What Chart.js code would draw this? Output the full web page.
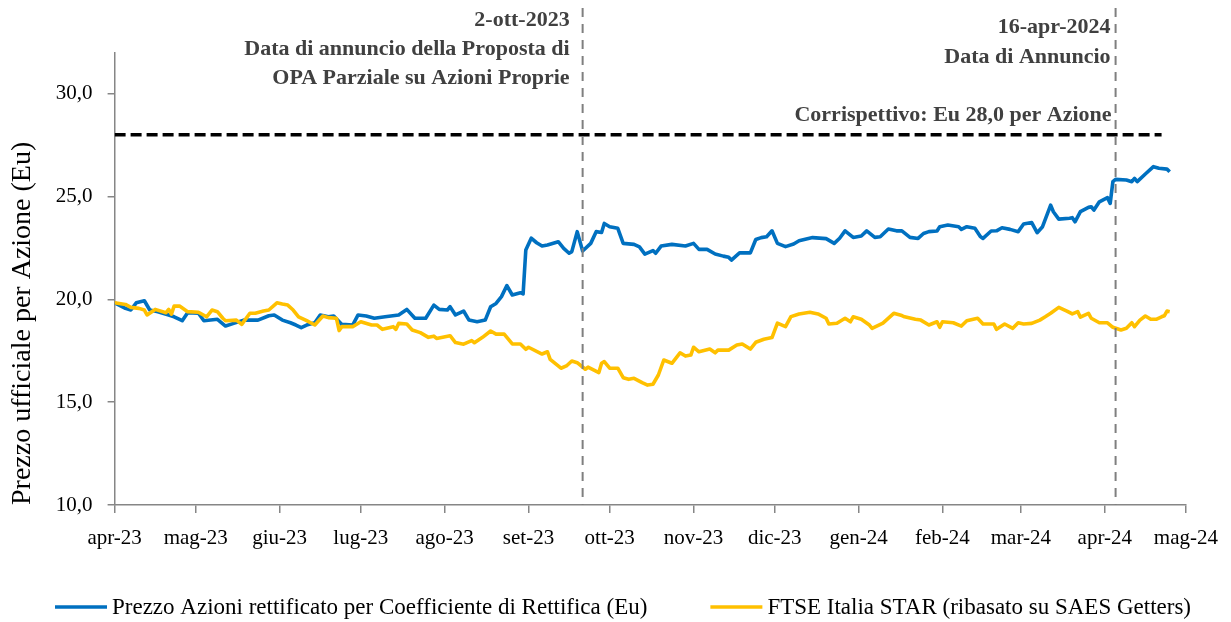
<!DOCTYPE html>
<html><head><meta charset="utf-8">
<script src="https://cdn.jsdelivr.net/npm/chart.js@4.4.1/dist/chart.umd.min.js"></script>
<style>html,body{margin:0;padding:0;background:#fff;}#wrap{width:1231px;height:622px;}</style>
</head><body><div id="wrap"><canvas id="c" width="1231" height="622"></canvas></div>
<script>
const FONT = '"Liberation Serif", "Times New Roman", serif';

// ---- data ----
const blueDates = [
 "2023-04-12","2023-04-16","2023-04-18","2023-04-20","2023-04-23","2023-04-25","2023-04-28",
 "2023-05-02","2023-05-04","2023-05-07","2023-05-09","2023-05-13","2023-05-15","2023-05-20","2023-05-23","2023-05-26","2023-05-30",
 "2023-06-04","2023-06-08","2023-06-10","2023-06-13","2023-06-16","2023-06-18","2023-06-20","2023-06-22","2023-06-25","2023-06-27","2023-06-30",
 "2023-07-02","2023-07-05","2023-07-09","2023-07-11","2023-07-14","2023-07-17","2023-07-21","2023-07-26","2023-07-29",
 "2023-08-01","2023-08-05","2023-08-08","2023-08-10","2023-08-13","2023-08-14","2023-08-16","2023-08-19","2023-08-21","2023-08-24","2023-08-27","2023-08-29","2023-08-31",
 "2023-09-02","2023-09-04","2023-09-06","2023-09-09","2023-09-10","2023-09-11","2023-09-13","2023-09-15","2023-09-17","2023-09-19","2023-09-23","2023-09-25","2023-09-27","2023-09-28","2023-09-30",
 "2023-10-02","2023-10-05","2023-10-07","2023-10-09","2023-10-10","2023-10-12","2023-10-15","2023-10-17","2023-10-21","2023-10-23","2023-10-25","2023-10-28","2023-10-29","2023-10-31",
 "2023-11-04","2023-11-09","2023-11-12","2023-11-14","2023-11-17","2023-11-20","2023-11-23","2023-11-25","2023-11-26","2023-11-29",
 "2023-12-03","2023-12-05","2023-12-07","2023-12-09","2023-12-11","2023-12-13","2023-12-16","2023-12-19","2023-12-21","2023-12-26","2023-12-31",
 "2024-01-03","2024-01-05","2024-01-07","2024-01-10","2024-01-13","2024-01-15","2024-01-18","2024-01-20","2024-01-23","2024-01-26","2024-01-28","2024-01-31",
 "2024-02-03","2024-02-05","2024-02-07","2024-02-10","2024-02-11","2024-02-14","2024-02-18","2024-02-19","2024-02-21","2024-02-24","2024-02-26","2024-02-27",
 "2024-03-01","2024-03-03","2024-03-05","2024-03-08","2024-03-11","2024-03-13","2024-03-16","2024-03-18","2024-03-20","2024-03-23","2024-03-24","2024-03-26","2024-03-30","2024-03-31",
 "2024-04-01","2024-04-03","2024-04-06","2024-04-07","2024-04-08","2024-04-10","2024-04-13","2024-04-14","2024-04-15","2024-04-16","2024-04-20","2024-04-22","2024-04-23","2024-04-24","2024-04-27","2024-04-30",
 "2024-05-02","2024-05-05","2024-05-06"];
const blueValues = [
 19.83,19.56,19.48,19.83,19.93,19.48,19.40,
 19.24,19.15,18.96,19.35,19.32,18.96,19.03,18.70,18.83,18.99,
 18.99,19.20,19.24,18.99,18.86,18.75,18.62,18.75,18.86,19.24,19.15,
 19.19,18.78,18.75,19.24,19.19,19.08,19.15,19.24,19.51,
 19.08,19.08,19.72,19.51,19.48,19.64,19.24,19.43,18.99,18.91,18.99,19.64,19.80,
 20.13,20.67,20.21,20.32,20.26,22.40,22.97,22.75,22.59,22.64,22.80,22.48,22.24,22.32,23.29,
 22.35,22.72,23.29,23.25,23.69,23.53,23.45,22.72,22.67,22.55,22.20,22.37,22.24,22.59,
 22.67,22.59,22.72,22.43,22.43,22.20,22.10,22.04,21.91,22.26,
 22.26,22.91,23.00,23.04,23.33,22.72,22.56,22.69,22.85,23.00,22.95,
 22.72,22.97,23.33,23.01,23.08,23.33,23.01,23.04,23.42,23.33,23.33,23.01,
 22.96,23.20,23.29,23.32,23.53,23.61,23.53,23.40,23.53,23.45,23.05,22.96,
 23.32,23.33,23.48,23.40,23.29,23.66,23.73,23.24,23.53,24.58,24.26,23.90,23.94,23.97,
 23.77,24.26,24.47,24.50,24.34,24.74,24.94,24.66,25.72,25.83,25.80,25.72,25.88,25.72,26.09,26.45,
 26.37,26.33,26.20];

const yellowDates = [
 "2023-04-12","2023-04-16","2023-04-18","2023-04-21","2023-04-23","2023-04-24","2023-04-27",
 "2023-05-01","2023-05-02","2023-05-03","2023-05-04","2023-05-06","2023-05-09","2023-05-13","2023-05-16","2023-05-18","2023-05-20","2023-05-22","2023-05-23","2023-05-27","2023-05-29",
 "2023-06-01","2023-06-03","2023-06-06","2023-06-08","2023-06-11","2023-06-13","2023-06-15","2023-06-17","2023-06-19","2023-06-22","2023-06-25","2023-06-28","2023-06-30",
 "2023-07-03","2023-07-04","2023-07-05","2023-07-09","2023-07-12","2023-07-16","2023-07-18","2023-07-20","2023-07-24","2023-07-25","2023-07-26","2023-07-29","2023-07-31",
 "2023-08-03","2023-08-06","2023-08-08","2023-08-09","2023-08-14","2023-08-16","2023-08-19","2023-08-22","2023-08-23","2023-08-26","2023-08-29","2023-08-31",
 "2023-09-03","2023-09-06","2023-09-09","2023-09-11","2023-09-12","2023-09-17","2023-09-19","2023-09-20","2023-09-24","2023-09-26","2023-09-28","2023-09-30",
 "2023-10-03","2023-10-04","2023-10-08","2023-10-09","2023-10-10","2023-10-12","2023-10-15","2023-10-17","2023-10-19","2023-10-21","2023-10-24","2023-10-26","2023-10-28","2023-10-30",
 "2023-11-01","2023-11-04","2023-11-07","2023-11-09","2023-11-11","2023-11-12","2023-11-14","2023-11-18","2023-11-20","2023-11-21","2023-11-25","2023-11-28","2023-11-30",
 "2023-12-03","2023-12-05","2023-12-08","2023-12-11","2023-12-13","2023-12-16","2023-12-18","2023-12-21","2023-12-25","2023-12-28","2023-12-31",
 "2024-01-01","2024-01-04","2024-01-07","2024-01-09","2024-01-10","2024-01-13","2024-01-16","2024-01-17","2024-01-21","2024-01-25","2024-01-28","2024-01-29",
 "2024-02-02","2024-02-04","2024-02-07","2024-02-10","2024-02-11","2024-02-12","2024-02-16","2024-02-19","2024-02-21","2024-02-25","2024-02-27",
 "2024-03-02","2024-03-03","2024-03-06","2024-03-09","2024-03-11","2024-03-13","2024-03-16","2024-03-19","2024-03-21","2024-03-23","2024-03-26","2024-03-29","2024-03-31",
 "2024-04-02","2024-04-03","2024-04-06","2024-04-07","2024-04-10","2024-04-13","2024-04-15","2024-04-18","2024-04-20","2024-04-22","2024-04-23","2024-04-25","2024-04-27","2024-04-29",
 "2024-05-01","2024-05-03","2024-05-04","2024-05-05","2024-05-06"];
const yellowValues = [
 19.83,19.75,19.61,19.56,19.48,19.24,19.51,
 19.35,19.51,19.28,19.67,19.67,19.40,19.37,19.15,19.48,19.40,19.08,18.96,18.99,18.78,
 19.32,19.32,19.43,19.48,19.83,19.77,19.72,19.48,19.15,18.96,18.75,19.19,19.11,
 19.08,18.48,18.67,18.67,18.91,18.75,18.75,18.54,18.67,18.54,18.83,18.80,18.51,
 18.38,18.15,18.21,18.10,18.23,17.90,17.82,17.99,17.89,18.15,18.46,18.31,
 18.31,17.83,17.83,17.57,17.67,17.34,17.45,17.08,16.65,16.76,17.00,16.92,
 16.60,16.70,16.44,16.89,16.97,16.65,16.65,16.19,16.11,16.16,15.95,15.83,15.87,16.32,
 17.05,16.89,17.40,17.24,17.29,17.67,17.45,17.58,17.40,17.53,17.53,17.78,17.83,
 17.58,17.91,18.06,18.14,18.84,18.67,19.16,19.29,19.37,19.29,19.08,
 18.80,18.84,19.08,18.91,19.15,19.03,18.75,18.59,18.84,19.32,19.21,19.15,
 19.03,18.99,18.75,18.91,18.64,18.91,18.86,18.70,18.96,19.08,18.80,
 18.80,18.54,18.80,18.59,18.86,18.80,18.83,18.99,19.15,19.32,19.61,19.43,19.29,
 19.40,19.13,19.32,19.08,18.86,18.86,18.64,18.51,18.59,18.86,18.67,18.99,19.19,19.03,
 19.03,19.15,19.20,19.43,19.40];

const offerDates = ["2023-04-12","2024-05-03"];
const offerValues = [28, 28];

const tickDates = ["2023-04-12","2023-05-12","2023-06-12","2023-07-12","2023-08-12","2023-09-12","2023-10-12","2023-11-12","2023-12-12","2024-01-12","2024-02-12","2024-03-12","2024-04-12","2024-05-12"];
const tickLabels = ["apr-23","mag-23","giu-23","lug-23","ago-23","set-23","ott-23","nov-23","dic-23","gen-24","feb-24","mar-24","apr-24","mag-24"];
const yTicks = [10, 15, 20, 25, 30];

const seriesNames = ["Prezzo Azioni rettificato per Coefficiente di Rettifica (Eu)", "FTSE Italia STAR (ribasato su SAES Getters)"];
const yTitle = "Prezzo ufficiale per Azione (Eu)";
const markerDates = ["2023-10-02", "2024-04-16"];
const markerTexts = [["2-ott-2023", "Data di annuncio della Proposta di", "OPA Parziale su Azioni Proprie"], ["16-apr-2024", "Data di Annuncio"]];
const offerText = "Corrispettivo: Eu 28,0 per Azione";

// ---- helpers ----
const ORIGIN = Date.UTC(2023, 3, 12);
function dayNum(s) { const [y, m, d] = s.split('-').map(Number); return (Date.UTC(y, m - 1, d) - ORIGIN) / 864e5; }
function pts(dates, vals) { return dates.map((d, i) => ({ x: dayNum(d), y: vals[i] })); }

const BLUE = '#0070C0', YELLOW = '#FFC000', AXIS = '#868686';

const annotations = {
  id: 'annotations',
  afterDatasetsDraw(chart) {
    const { ctx, chartArea, scales: { x, y } } = chart;
    ctx.save();
    ctx.strokeStyle = '#7F7F7F'; ctx.lineWidth = 2; ctx.setLineDash([9, 7]);
    const mx = markerDates.map(d => x.getPixelForValue(dayNum(d)));
    mx.forEach(px => { ctx.beginPath(); ctx.moveTo(px, 8); ctx.lineTo(px, chartArea.bottom); ctx.stroke(); });
    ctx.setLineDash([]);
    ctx.fillStyle = '#404040'; ctx.textAlign = 'right'; ctx.textBaseline = 'middle';
    ctx.font = 'bold 22px ' + FONT;
    const ys = [[20, 49, 78], [27, 57]];
    const offs = [13, 5];
    markerTexts.forEach((lines, k) => lines.forEach((t, j) => ctx.fillText(t, mx[k] - offs[k], ys[k][j])));
    ctx.fillText(offerText, mx[1] - 4, y.getPixelForValue(28) - 19);
    ctx.restore();
  }
};

const legendPlugin = {
  id: 'customLegend',
  afterDraw(chart) {
    const { ctx } = chart;
    const items = chart.data.datasets.filter(d => d.label);
    ctx.save();
    ctx.font = '23px ' + FONT; ctx.textBaseline = 'middle'; ctx.textAlign = 'left';
    const lineLen = 52, gap = 5, itemGap = 63;
    const widths = items.map(d => lineLen + gap + ctx.measureText(d.label).width);
    const total = widths.reduce((a, b) => a + b, 0) + itemGap * (items.length - 1);
    let cx = 623 - total / 2;
    const cy = 607;
    items.forEach((d, i) => {
      ctx.strokeStyle = d.borderColor; ctx.lineWidth = 3.5;
      ctx.beginPath(); ctx.moveTo(cx, cy); ctx.lineTo(cx + lineLen, cy); ctx.stroke();
      ctx.fillStyle = '#000'; ctx.fillText(d.label, cx + lineLen + gap, cy + 1);
      cx += widths[i] + itemGap;
    });
    ctx.restore();
  }
};

new Chart(document.getElementById('c'), {
  type: 'line',
  data: {
    datasets: [
      { label: seriesNames[0], data: pts(blueDates, blueValues), borderColor: BLUE, borderWidth: 3.6, pointRadius: 0, tension: 0, borderJoinStyle: 'round', order: 2 },
      { label: seriesNames[1], data: pts(yellowDates, yellowValues), borderColor: YELLOW, borderWidth: 3.6, pointRadius: 0, tension: 0, borderJoinStyle: 'round', order: 1 },
      { data: pts(offerDates, offerValues), borderColor: '#000', borderWidth: 3.5, borderDash: [11, 5], pointRadius: 0, order: 0 }
    ]
  },
  options: {
    responsive: false, animation: false, devicePixelRatio: 1,
    layout: { padding: { left: 0, right: 44, top: 52.5, bottom: 0 } },
    plugins: { legend: { display: false }, tooltip: { enabled: false } },
    scales: {
      x: {
        type: 'linear', min: 0, max: dayNum(tickDates[tickDates.length - 1]),
        afterBuildTicks: s => { s.ticks = tickDates.map(d => ({ value: dayNum(d) })); },
        afterFit: s => { s.height = 117; },
        ticks: { autoSkip: false, maxRotation: 0, padding: 13, color: '#000', font: { family: FONT, size: 21 }, callback: (v, i) => tickLabels[i] },
        grid: { drawOnChartArea: false, drawTicks: true, tickLength: 8, color: AXIS, lineWidth: 1.5 },
        border: { color: AXIS, width: 1.5 }
      },
      y: {
        min: 10, max: 32,
        afterBuildTicks: s => { s.ticks = yTicks.map(v => ({ value: v })); },
        afterFit: s => { s.width = 114.6; },
        ticks: { padding: 15, color: '#000', font: { family: FONT, size: 21 }, callback: v => v.toFixed(1).replace('.', ',') },
        grid: { drawOnChartArea: false, drawTicks: true, tickLength: 7, color: AXIS, lineWidth: 1.5 },
        border: { color: AXIS, width: 1.5 },
        title: { display: true, text: yTitle, align: 'start', color: '#000', font: { family: FONT, size: 28 }, padding: { top: 6, bottom: 0 } }
      }
    }
  },
  plugins: [annotations, legendPlugin]
});
</script></body></html>
